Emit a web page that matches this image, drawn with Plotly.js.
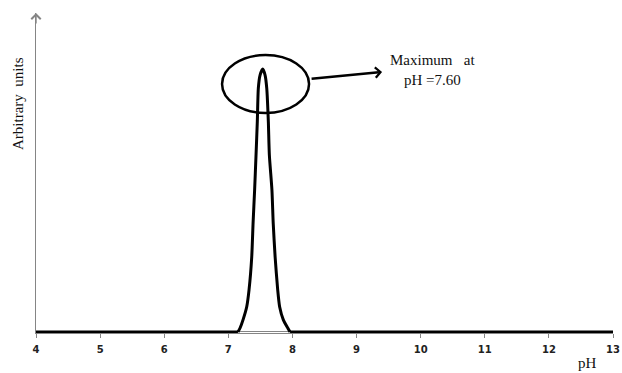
<!DOCTYPE html>
<html>
<head>
<meta charset="utf-8">
<script src="https://cdn.plot.ly/plotly-3.0.1.min.js"></script>
<style>
html,body{margin:0;padding:0;background:#fff;}
#chart{width:622px;height:373px;}
</style>
</head>
<body>
<div id="chart"></div>
<script>
// pH values
var phValues = [4, 7.15, 7.183, 7.229, 7.287, 7.323, 7.365, 7.386, 7.41, 7.432, 7.452, 7.468, 7.495, 7.537,
                7.573, 7.599, 7.624, 7.640, 7.68, 7.70, 7.73, 7.77, 7.80, 7.858, 7.927, 7.963, 13];
// arbitrary-unit intensity
var intensity = [0, 0, 0.015, 0.046, 0.096, 0.16, 0.285, 0.414, 0.54, 0.673, 0.80, 0.927, 0.977, 1.0,
                 0.977, 0.927, 0.80, 0.673, 0.54, 0.414, 0.285, 0.16, 0.096, 0.046, 0.015, 0, 0];
var xTickValues = [4, 5, 6, 7, 8, 9, 10, 11, 12, 13];
var xTickLabels = ['4', '5', '6', '7', '8', '9', '10', '11', '12', '13'];
var yTitle = 'Arbitrary  units';
var xTitle = 'pH';
var noteText = 'Maximum   at<br>pH =7.60';

// split the series: flat baseline parts drawn straight, the peak drawn smooth
var firstPeak = 1, lastPeak = intensity.length - 2;
var lineStyle = {color: '#000', width: 3};
function part(i0, i1, shape) {
  return {
    x: phValues.slice(i0, i1 + 1), y: intensity.slice(i0, i1 + 1),
    type: 'scatter', mode: 'lines',
    line: Object.assign({}, lineStyle, shape === 'spline' ? {shape: 'spline', smoothing: 0.6} : {shape: 'linear'}),
    hoverinfo: 'skip', showlegend: false
  };
}
var traces = [
  part(0, firstPeak, 'linear'),
  part(firstPeak, lastPeak, 'spline'),
  part(lastPeak, intensity.length - 1, 'linear')
];

var grey = '#858585';
var layout = {
  width: 622, height: 373,
  margin: {l: 36, r: 9, t: 13, b: 40, pad: 0},
  paper_bgcolor: '#fff', plot_bgcolor: '#fff',
  showlegend: false,
  xaxis: {
    range: [4, 13], tickvals: xTickValues, ticktext: xTickLabels,
    showgrid: false, zeroline: false, showline: true, linecolor: grey, linewidth: 1,
    ticks: 'outside', ticklen: 4, tickcolor: grey, tickwidth: 1, ticklabelstandoff: 3,
    tickfont: {family: 'DejaVu Sans, Verdana, sans-serif', size: 10, color: '#222', weight: 'bold'},
    fixedrange: true
  },
  yaxis: {
    range: [-0.004, 1.213], showticklabels: false, ticks: '',
    showgrid: false, zeroline: true, zerolinecolor: grey, zerolinewidth: 1,
    showline: true, linecolor: grey, linewidth: 1.5, fixedrange: true
  },
  shapes: [
    {type: 'circle', xref: 'x', yref: 'y', x0: 6.902, x1: 8.259, y0: 0.833, y1: 1.053,
     line: {color: '#000', width: 2.5}}
  ],
  annotations: [
    {text: yTitle, xref: 'paper', yref: 'paper', x: -0.031, y: 0.716, textangle: -90,
     showarrow: false, xanchor: 'center', yanchor: 'middle',
     font: {family: 'Liberation Serif, Times New Roman, serif', size: 15, color: '#111'}},
    {text: xTitle, xref: 'paper', yref: 'paper', x: 0.955, y: -0.094,
     showarrow: false, xanchor: 'center', yanchor: 'middle',
     font: {family: 'Liberation Serif, Times New Roman, serif', size: 15, color: '#111'}},
    {text: noteText, xref: 'paper', yref: 'paper', x: 0.688, y: 0.822,
     showarrow: false, xanchor: 'center', yanchor: 'middle', align: 'center',
     font: {family: 'Liberation Serif, Times New Roman, serif', size: 15, color: '#111'}},
    {text: '', xref: 'x', yref: 'y', axref: 'x', ayref: 'y',
     x: 9.398, y: 0.989, ax: 8.275, ay: 0.962,
     showarrow: true, arrowhead: 4, arrowsize: 0.8, arrowwidth: 2.5, arrowcolor: '#000'},
    {text: '', xref: 'paper', yref: 'paper', x: 0, y: 1, ax: 0, ay: 12,
     showarrow: true, arrowhead: 4, arrowsize: 1.3, arrowwidth: 1.4, arrowcolor: grey}
  ]
};

Plotly.newPlot('chart', traces, layout, {displayModeBar: false, staticPlot: true});
</script>
</body>
</html>
